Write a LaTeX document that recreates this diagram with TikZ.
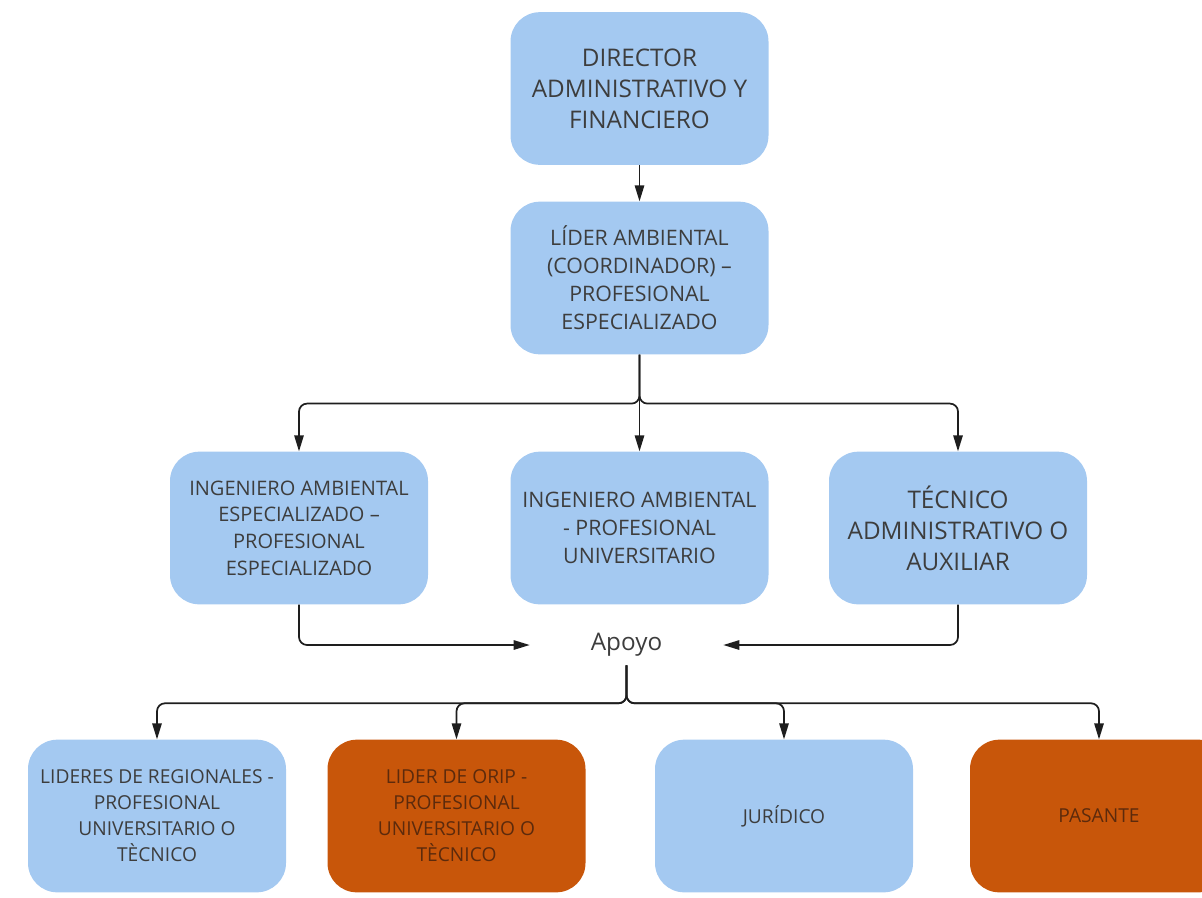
\documentclass[tikz,border=0pt]{standalone}
\usepackage{fontspec}
\setmainfont{Open Sans}
\usepackage{xcolor}
\usepackage{tikz}
\usetikzlibrary{shapes,arrows,positioning,calc,arrows.meta}

\definecolor{cajaazul}{HTML}{A4C9F1}
\definecolor{cajanaranja}{HTML}{C8560A}
\definecolor{textoazul}{HTML}{3D3D3D}
\definecolor{textonaranja}{HTML}{5C2A0C}
\definecolor{linea}{HTML}{1E1E1E}

\begin{document}
\begin{tikzpicture}[x=0.75pt,y=-0.75pt,
    caja/.style={rounded corners=22pt, minimum width=193.5pt, minimum height=114.5pt,
        align=center, inner sep=2pt},
    azul/.style={caja, fill=cajaazul, text=textoazul},
    naranja/.style={caja, fill=cajanaranja, text=textonaranja},
    grande/.style={font=\fontsize{18.2}{23.3}\selectfont},
    media/.style={font=\fontsize{16}{21}\selectfont},
    chica/.style={font=\fontsize{14.4}{19.5}\selectfont},
    conn/.style={draw=linea, line width=1.3pt, rounded corners=6pt,
        -{Triangle[length=12pt,width=7pt]}}]
    \useasboundingbox (0,0) rectangle (1202,897);
    \clip (0,0) rectangle (1202,897);

    % Direccion
    \node[azul,grande] (dir) at (639.5,88.5) {\raisebox{2pt}{\parbox{180pt}{\centering DIRECTOR\\ADMINISTRATIVO Y\\FINANCIERO}}};
    \node[azul,media] (lider) at (639.5,278) {LÍDER AMBIENTAL\\(COORDINADOR) –\\PROFESIONAL\\ESPECIALIZADO};

    % Segundo nivel
    \node[azul,font=\fontsize{15}{20}\selectfont] (ingesp) at (299,528) {INGENIERO AMBIENTAL\\ESPECIALIZADO –\\PROFESIONAL\\ESPECIALIZADO};
    \node[azul,media] (ingu) at (639.5,528) {INGENIERO AMBIENTAL\\- PROFESIONAL\\UNIVERSITARIO};
    \node[azul,grande] (tec) at (958,528) {TÉCNICO\\ADMINISTRATIVO O\\AUXILIAR};

    % Apoyo
    \node[grande, text=textoazul, minimum width=144.75pt, minimum height=30pt,
        inner sep=0pt] (apoyo) at (626.5,645) {\raisebox{-3pt}{Apoyo}};

    % Tercer nivel
    \node[azul,chica] (lreg) at (157,816) {LIDERES DE REGIONALES -\\PROFESIONAL\\UNIVERSITARIO O\\TÈCNICO};
    \node[naranja,chica] (orip) at (456.5,816) {LIDER DE ORIP -\\PROFESIONAL\\UNIVERSITARIO O\\TÈCNICO};
    \node[azul,chica] (jur) at (784,816) {JURÍDICO};
    \node[naranja,chica] (pas) at (1099,816) {PASANTE};

    % Conectores
    \draw[conn] (dir) -- (lider);
    \draw[conn] (lider.south) -- ++(0,49) -| (ingesp.north);
    \draw[conn] (lider) -- (ingu);
    \draw[conn] (lider.south) -- ++(0,49) -| (tec.north);
    \draw[conn] (ingesp.south) |- (apoyo.west);
    \draw[conn] (tec.south) |- (apoyo.east);
    \foreach \dest in {lreg,orip,jur,pas}
        \draw[conn] (apoyo.south) -- ++(0,38) -| (\dest.north);
\end{tikzpicture}
\end{document}
